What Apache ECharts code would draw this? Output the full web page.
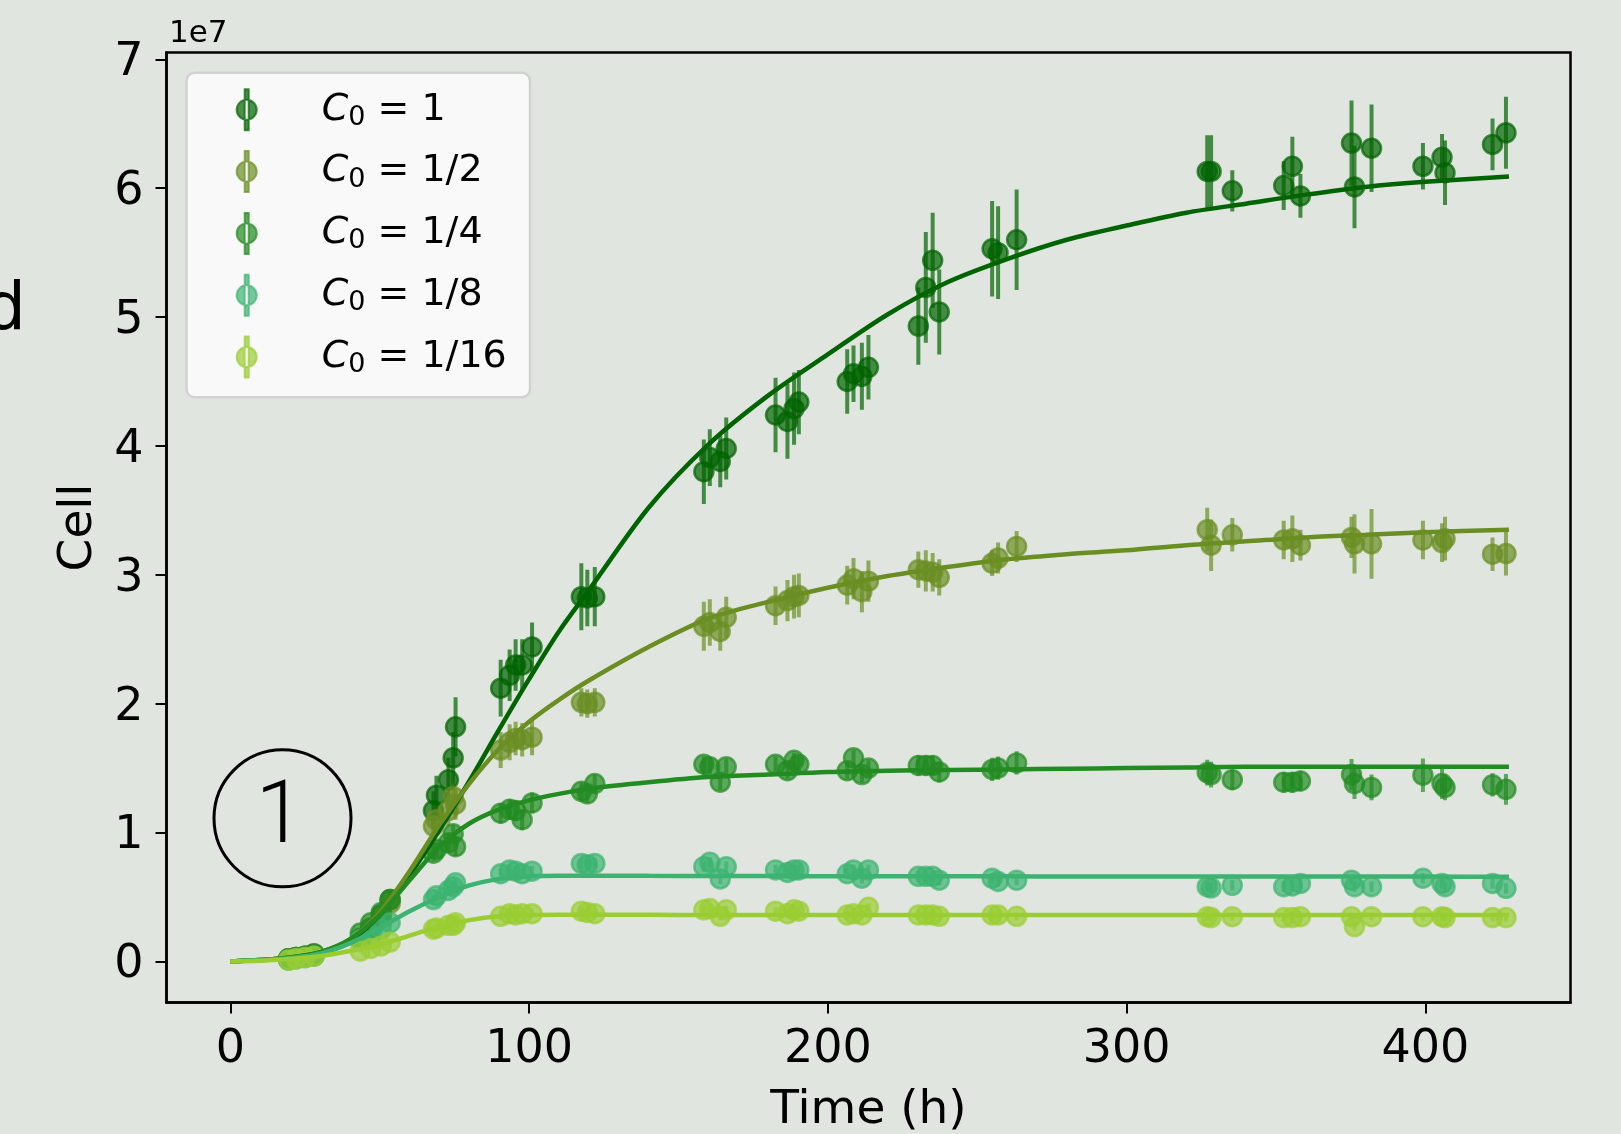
<!DOCTYPE html>
<html lang="en">
<head>
<meta charset="UTF-8">
<title>Cell growth</title>
<script src="https://cdn.jsdelivr.net/npm/echarts@6/dist/echarts.min.js"></script>
<style>
    html, body { margin: 0; padding: 0; background: #e0e6df; }
    #main { width: 1621px; height: 1134px; }
</style>
</head>
<body>
<div id="main"></div>
<script>
// cell counts are in units of 1e7
var times = [
    19.5, 22, 25, 28,
    43.5, 47, 50.5, 53.5,
    68, 69, 73, 74.6, 75.4,
    90.5, 93.5, 95.5, 97.7, 101,
    117.5, 119.5, 122,
    158.5, 160.5, 164, 166,
    182.5, 186.5, 188.7, 190.3,
    206.5, 208.6, 211.4, 213.6,
    230.3, 232.8, 235.1, 237.3,
    255, 257, 263.2,
    327, 328.3, 335.4,
    352.6, 355.5, 358.2,
    375.3, 376.3, 382,
    399.2, 405.6, 406.6,
    422.5, 427
];
var cell1 = [0.02, 0.03, 0.04, 0.06, 0.18, 0.26, 0.36, 0.48, 1.17, 1.29, 1.41, 1.58, 1.82,
    2.12, 2.22, 2.30, 2.30, 2.44, 2.83, 2.82, 2.83, 3.80, 3.91, 3.88, 3.98,
    4.24, 4.19, 4.29, 4.34, 4.50, 4.56, 4.54, 4.61, 4.93, 5.23, 5.44, 5.04,
    5.53, 5.50, 5.60, 6.13, 6.13, 5.98, 6.02, 6.17, 5.94, 6.35, 6.01, 6.31,
    6.17, 6.24, 6.12, 6.34, 6.43];
var err1 = [0.01, 0.01, 0.02, 0.02, 0.03, 0.04, 0.05, 0.06, 0.15, 0.15, 0.17, 0.20, 0.23,
    0.22, 0.20, 0.20, 0.20, 0.19, 0.26, 0.22, 0.23, 0.25, 0.22, 0.20, 0.24,
    0.29, 0.29, 0.28, 0.25, 0.25, 0.22, 0.26, 0.25, 0.30, 0.43, 0.37, 0.33,
    0.37, 0.36, 0.39, 0.28, 0.28, 0.16, 0.19, 0.23, 0.17, 0.33, 0.32, 0.34,
    0.18, 0.18, 0.25, 0.20, 0.28];
var cell2 = [0.02, 0.03, 0.04, 0.05, 0.17, 0.25, 0.34, 0.45, 1.05, 1.10, 1.17, 1.28, 1.22,
    1.64, 1.70, 1.73, 1.72, 1.74, 2.01, 2.00, 2.01, 2.60, 2.63, 2.56, 2.67,
    2.76, 2.80, 2.83, 2.84, 2.92, 2.97, 2.87, 2.95, 3.04, 3.03, 3.02, 2.98,
    3.09, 3.13, 3.22, 3.35, 3.23, 3.31, 3.27, 3.28, 3.23, 3.29, 3.24, 3.24,
    3.27, 3.25, 3.28, 3.16, 3.165];
var err2 = [0.01, 0.01, 0.01, 0.01, 0.03, 0.04, 0.05, 0.06, 0.10, 0.12, 0.12, 0.13, 0.12,
    0.14, 0.14, 0.13, 0.13, 0.14, 0.11, 0.11, 0.11, 0.19, 0.18, 0.15, 0.16,
    0.15, 0.16, 0.17, 0.17, 0.15, 0.16, 0.16, 0.16, 0.14, 0.16, 0.15, 0.14,
    0.10, 0.12, 0.12, 0.17, 0.20, 0.13, 0.15, 0.18, 0.12, 0.16, 0.23, 0.27,
    0.15, 0.15, 0.17, 0.13, 0.17];
var cell3 = [0.02, 0.03, 0.04, 0.05, 0.22, 0.30, 0.38, 0.48, 0.84, 0.87, 0.92, 0.99, 0.89,
    1.15, 1.18, 1.17, 1.10, 1.23, 1.32, 1.30, 1.38, 1.53, 1.51, 1.39, 1.51,
    1.53, 1.48, 1.56, 1.53, 1.48, 1.58, 1.45, 1.50, 1.52, 1.52, 1.52, 1.47,
    1.49, 1.50, 1.54, 1.465, 1.45, 1.41, 1.39, 1.39, 1.40, 1.45, 1.38, 1.35,
    1.445, 1.38, 1.35, 1.37, 1.335];
var err3 = [0.005, 0.005, 0.01, 0.01, 0.02, 0.03, 0.04, 0.05, 0.06, 0.06, 0.07, 0.07, 0.07,
    0.08, 0.08, 0.08, 0.08, 0.08, 0.07, 0.07, 0.07, 0.06, 0.06, 0.06, 0.06,
    0.06, 0.06, 0.06, 0.06, 0.06, 0.06, 0.06, 0.06, 0.08, 0.08, 0.08, 0.08,
    0.09, 0.09, 0.09, 0.10, 0.10, 0.08, 0.08, 0.08, 0.08, 0.12, 0.12, 0.10,
    0.13, 0.12, 0.10, 0.09, 0.12];
var cell4 = [0.01, 0.02, 0.03, 0.04, 0.17, 0.20, 0.25, 0.30, 0.48, 0.51, 0.55, 0.58, 0.61,
    0.68, 0.71, 0.70, 0.68, 0.70, 0.76, 0.75, 0.76, 0.735, 0.77, 0.64, 0.735,
    0.71, 0.69, 0.71, 0.71, 0.68, 0.71, 0.645, 0.71, 0.66, 0.66, 0.66, 0.63,
    0.645, 0.62, 0.63, 0.58, 0.57, 0.59, 0.58, 0.585, 0.605, 0.63, 0.58, 0.58,
    0.645, 0.605, 0.58, 0.605, 0.567];
var err4 = [0.005, 0.005, 0.01, 0.01, 0.02, 0.02, 0.03, 0.03, 0.04, 0.04, 0.04, 0.04, 0.04,
    0.04, 0.04, 0.04, 0.04, 0.04, 0.04, 0.04, 0.04, 0.04, 0.04, 0.04, 0.04,
    0.04, 0.04, 0.04, 0.04, 0.04, 0.04, 0.04, 0.04, 0.04, 0.04, 0.04, 0.04,
    0.04, 0.04, 0.04, 0.04, 0.04, 0.04, 0.04, 0.04, 0.04, 0.04, 0.04, 0.04,
    0.04, 0.04, 0.04, 0.04, 0.04];
var cell5 = [0.01, 0.02, 0.03, 0.04, 0.08, 0.10, 0.12, 0.15, 0.25, 0.26, 0.28, 0.28, 0.30,
    0.35, 0.37, 0.36, 0.37, 0.37, 0.39, 0.38, 0.37, 0.40, 0.41, 0.35, 0.40,
    0.39, 0.37, 0.40, 0.39, 0.36, 0.37, 0.36, 0.42, 0.36, 0.36, 0.36, 0.35,
    0.36, 0.36, 0.35, 0.347, 0.34, 0.347, 0.34, 0.34, 0.347, 0.347, 0.27, 0.347,
    0.347, 0.347, 0.34, 0.34, 0.34];
var err5 = [0.005, 0.005, 0.005, 0.01, 0.01, 0.01, 0.02, 0.02, 0.03, 0.03, 0.03, 0.03, 0.03,
    0.03, 0.03, 0.03, 0.03, 0.03, 0.03, 0.03, 0.03, 0.03, 0.03, 0.03, 0.03,
    0.03, 0.03, 0.03, 0.03, 0.03, 0.03, 0.03, 0.03, 0.03, 0.03, 0.03, 0.03,
    0.03, 0.03, 0.03, 0.03, 0.03, 0.03, 0.03, 0.03, 0.03, 0.03, 0.03, 0.03,
    0.03, 0.03, 0.03, 0.03, 0.03];

// fitted growth curves
var fitTimes = [0, 10, 20, 30, 40, 50, 60, 70, 80, 90, 100, 110, 120, 140, 160, 180, 200, 220, 240, 260, 280, 300, 320, 340, 360, 380, 400, 428];
var fit1 = [0, 0.01, 0.03, 0.07, 0.16, 0.36, 0.67, 1.02, 1.40, 1.80, 2.19, 2.56, 2.88, 3.52, 4.01, 4.39, 4.71, 5.02, 5.27, 5.45, 5.60, 5.71, 5.81, 5.88, 5.95, 6.01, 6.05, 6.09];
var fit2 = [0, 0.01, 0.03, 0.07, 0.17, 0.38, 0.70, 1.06, 1.38, 1.65, 1.86, 2.03, 2.18, 2.44, 2.66, 2.79, 2.90, 2.99, 3.06, 3.12, 3.16, 3.19, 3.23, 3.26, 3.29, 3.31, 3.33, 3.35];
var fit3 = [0, 0.01, 0.03, 0.07, 0.17, 0.36, 0.63, 0.89, 1.07, 1.18, 1.25, 1.30, 1.34, 1.39, 1.43, 1.45, 1.47, 1.48, 1.485, 1.49, 1.495, 1.50, 1.505, 1.51, 1.51, 1.51, 1.51, 1.51];
var fit4 = [0, 0.01, 0.025, 0.06, 0.14, 0.26, 0.39, 0.50, 0.59, 0.64, 0.66, 0.665, 0.665, 0.664, 0.663, 0.662, 0.661, 0.66, 0.66, 0.66, 0.659, 0.659, 0.659, 0.658, 0.658, 0.658, 0.658, 0.657];
var fit5 = [0, 0.005, 0.02, 0.04, 0.08, 0.13, 0.20, 0.27, 0.32, 0.35, 0.36, 0.362, 0.362, 0.361, 0.36, 0.36, 0.36, 0.36, 0.36, 0.36, 0.36, 0.36, 0.36, 0.36, 0.36, 0.36, 0.36, 0.36];

var xTicks = [0, 100, 200, 300, 400];
var yTicks = [0, 1, 2, 3, 4, 5, 6, 7];
var c0Labels = ['1', '1/2', '1/4', '1/8', '1/16'];

var colors = ['#006400', '#6b8e23', '#228b22', '#3cb371', '#9acd32'];
var cells = [cell1, cell2, cell3, cell4, cell5];
var errs = [err1, err2, err3, err4, err5];
var fits = [fit1, fit2, fit3, fit4, fit5];
var FONT = '"DejaVu Sans", sans-serif';

var myChart = echarts.init(document.getElementById('main'));

var series = [];
c0Labels.forEach(function (lab, k) {
    var name = 'C0 = ' + lab;
    var col = colors[k];
    // points
    series.push({
        name: name,
        type: 'scatter',
        z: 3,
        symbol: 'circle',
        symbolSize: 19,
        itemStyle: { color: col, opacity: 0.7, borderColor: col, borderWidth: 2.5 },
        data: times.map(function (t, i) { return [t, cells[k][i]]; })
    });
    // error bars
    series.push({
        name: name,
        type: 'custom',
        z: 2,
        clip: true,
        encode: { x: 0, y: [1, 2] },
        renderItem: function (params, api) {
            var p1 = api.coord([api.value(0), api.value(1)]);
            var p2 = api.coord([api.value(0), api.value(2)]);
            return {
                type: 'line',
                shape: { x1: p1[0], y1: p1[1], x2: p2[0], y2: p2[1] },
                style: { stroke: col, lineWidth: 4, opacity: 0.7 }
            };
        },
        data: times.map(function (t, i) {
            return [t, cells[k][i] - errs[k][i], cells[k][i] + errs[k][i]];
        })
    });
    // fit curve
    series.push({
        name: name + ' fit',
        type: 'line',
        z: 4,
        showSymbol: false,
        smooth: 0.3,
        lineStyle: { color: col, width: 4.5 },
        itemStyle: { color: col },
        data: fitTimes.map(function (t, i) { return [t, fits[k][i]]; })
    });
});

var legendIcon = 'path://M8,0h4v41h-4z M0,20.5a10,10 0 1,0 20,0a10,10 0 1,0 -20,0z';

var option = {
    backgroundColor: '#e0e6df',
    animation: false,
    grid: {
        left: 166.5, right: 50.5, top: 52.5, bottom: 131.5,
        outerBoundsMode: 'none',
        containLabel: false,
        show: true, borderColor: '#000', borderWidth: 2.5, backgroundColor: 'transparent'
    },
    xAxis: {
        type: 'value',
        min: -21.36, max: 448.6,
        name: 'Time (h)',
        nameLocation: 'middle',
        nameGap: 85,
        nameTextStyle: { fontFamily: FONT, fontSize: 47, color: '#000' },
        axisLine: { onZero: false, lineStyle: { color: '#000', width: 2.5 } },
        axisTick: { show: true, length: 11, lineStyle: { color: '#000', width: 2 }, customValues: xTicks },
        axisLabel: { margin: 25, fontFamily: FONT, fontSize: 46, color: '#000', customValues: xTicks },
        splitLine: { show: false }
    },
    yAxis: {
        type: 'value',
        min: -0.319, max: 7.053,
        name: 'Cell',
        nameLocation: 'middle',
        nameGap: 64,
        nameTextStyle: { fontFamily: FONT, fontSize: 47, color: '#000' },
        axisLine: { onZero: false, lineStyle: { color: '#000', width: 2.5 } },
        axisTick: { show: true, length: 11, lineStyle: { color: '#000', width: 2 }, customValues: yTicks },
        axisLabel: {
            margin: 23, color: '#000', customValues: yTicks,
            formatter: function (v) { return '{a|' + v + '}'; },
            rich: { a: { fontFamily: FONT, fontSize: 46, color: '#000', padding: [8, 0, 0, 0] } }
        },
        splitLine: { show: false }
    },
    legend: {
        orient: 'vertical',
        left: 235.7,
        top: 87.7,
        z: 10,
        padding: 0,
        itemGap: 17.85,
        itemWidth: 20,
        itemHeight: 41,
        selectedMode: false,
        data: c0Labels.map(function (lab) { return { name: 'C0 = ' + lab, icon: legendIcon }; }),
        formatter: function (name) {
            return '{c|C}{s|0}{t| = ' + name.replace('C0 = ', '') + '}';
        },
        textStyle: {
            padding: [0, 0, 0, 60],
            lineHeight: 44,
            rich: {
                c: { fontFamily: FONT, fontStyle: 'italic', fontSize: 38, color: '#000', lineHeight: 44 },
                s: { fontFamily: FONT, fontSize: 27, color: '#000', padding: [16, 0, 0, 0] },
                t: { fontFamily: FONT, fontSize: 38, color: '#000', lineHeight: 44 }
            }
        }
    },
    graphic: [
        {
            type: 'rect', z: 5,
            shape: { x: 186.5, y: 72.7, width: 343.5, height: 324.6, r: 8 },
            style: { fill: '#f8f9f8', stroke: '#d0d3d0', lineWidth: 2.5 }
        },
        {
            type: 'text', left: 169, top: 18,
            style: { text: '1e7', font: '31px "DejaVu Sans"', fill: '#000' }
        },
        {
            type: 'text', x: -16, y: 312,
            style: { text: 'd', font: '66px "DejaVu Sans"', fill: '#000', verticalAlign: 'middle' }
        },
        {
            type: 'circle',
            shape: { cx: 282.5, cy: 818.3, r: 68.5 },
            style: { fill: 'none', stroke: '#000', lineWidth: 3 }
        },
        {
            type: 'text', x: 280, y: 820,
            style: { text: '1', font: '300 88px Roboto', fill: '#000', align: 'center', verticalAlign: 'middle' }
        }
    ],
    series: series
};

myChart.setOption(option);
</script>
</body>
</html>
